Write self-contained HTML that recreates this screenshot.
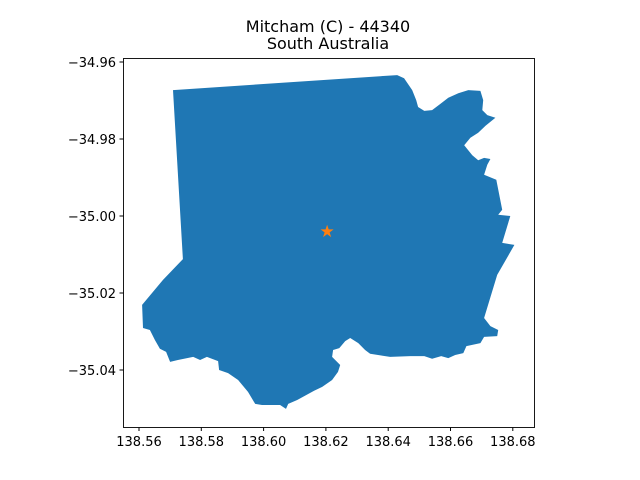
<!DOCTYPE html>
<html><head><meta charset="utf-8"><style>
body{margin:0;background:#fff}
svg{display:block;font-family:"DejaVu Sans","Liberation Sans",sans-serif}
</style></head><body>
<svg id="chart" width="640" height="480" viewBox="0 0 640 480">
<text x="328" y="32" text-anchor="middle" font-size="16">Mitcham (C) - 44340</text>
<text x="328" y="49" text-anchor="middle" font-size="16">South Australia</text>
<g id="plot"></g>
<rect x="123.5" y="58.5" width="411" height="369" fill="none" stroke="#000" stroke-width="0.9"/>
<g id="xt"></g><g id="yt"></g>
</svg>
<script>
const lons=[138.5709,138.6429,138.6451,138.6477,138.6490,138.6496,138.6516,138.6541,138.6567,138.6593,138.6625,138.6657,138.6696,138.6705,138.6702,138.6718,138.6744,138.6712,138.6689,138.6664,138.6644,138.6670,138.6689,138.6708,138.6728,138.6718,138.6708,138.6747,138.6766,138.6753,138.6792,138.6766,138.6805,138.6750,138.6708,138.6728,138.6753,138.6750,138.6708,138.6696,138.6651,138.6641,138.6615,138.6593,138.6570,138.6541,138.6516,138.6471,138.6406,138.6342,138.6326,138.6304,138.6278,138.6262,138.6243,138.6223,138.6220,138.6246,138.6239,138.6220,138.6188,138.6162,138.6108,138.6079,138.6072,138.6053,138.5995,138.5973,138.5950,138.5918,138.5886,138.5857,138.5854,138.5818,138.5796,138.5774,138.5725,138.5700,138.5687,138.5667,138.5651,138.5635,138.5613,138.5610,138.5677,138.5741];
const lats=[-34.9673,-34.9634,-34.9642,-34.9673,-34.9699,-34.9717,-34.9727,-34.9725,-34.9709,-34.9693,-34.9681,-34.9673,-34.9675,-34.9699,-34.9725,-34.9738,-34.9745,-34.9766,-34.9784,-34.9797,-34.9816,-34.9842,-34.9855,-34.9849,-34.9852,-34.9867,-34.9893,-34.9906,-34.9984,-34.9997,-35.0000,-35.0070,-35.0075,-35.0153,-35.0265,-35.0286,-35.0296,-35.0312,-35.0314,-35.0330,-35.0338,-35.0356,-35.0361,-35.0369,-35.0364,-35.0371,-35.0364,-35.0364,-35.0366,-35.0358,-35.0348,-35.0330,-35.0317,-35.0325,-35.0343,-35.0348,-35.0366,-35.0387,-35.0405,-35.0426,-35.0444,-35.0454,-35.0478,-35.0488,-35.0501,-35.0491,-35.0491,-35.0488,-35.0457,-35.0426,-35.0408,-35.0400,-35.0377,-35.0366,-35.0374,-35.0366,-35.0374,-35.0379,-35.0353,-35.0345,-35.0322,-35.0296,-35.0291,-35.0231,-35.0166,-35.0112];
const centroid=[138.6204,-35.0039];
const xTicks=[138.56,138.58,138.60,138.62,138.64,138.66,138.68];
const yTicks=[-34.96,-34.98,-35.00,-35.02,-35.04];
const X=v=>139+(v-138.56)/0.02*62.3;
const Y=v=>62+(-34.96-v)/0.02*77;
const NS="http://www.w3.org/2000/svg";
const plot=document.getElementById('plot');
const poly=document.createElementNS(NS,'polygon');
poly.setAttribute('points',lons.map((l,i)=>X(l).toFixed(1)+','+Y(lats[i]).toFixed(1)).join(' '));
poly.setAttribute('fill','#1f77b4');


plot.appendChild(poly);
const star=document.createElementNS(NS,'text');
star.setAttribute('x',X(centroid[0]));star.setAttribute('y',Y(centroid[1])+6);
star.setAttribute('text-anchor','middle');star.setAttribute('font-size','17');star.setAttribute('fill','#ff7f0e');
star.textContent='★';


plot.appendChild(star);
const xt=document.getElementById('xt');
xTicks.forEach(t=>{const x=X(t);
const l=document.createElementNS(NS,'line');l.setAttribute('x1',x);l.setAttribute('x2',x);l.setAttribute('y1',427.5);l.setAttribute('y2',431);l.setAttribute('stroke','#000');


xt.appendChild(l);
const s=document.createElementNS(NS,'text');s.setAttribute('x',x);s.setAttribute('y',446);s.setAttribute('text-anchor','middle');s.setAttribute('font-size','13');s.textContent=t.toFixed(2);


xt.appendChild(s);});
const yt=document.getElementById('yt');
yTicks.forEach(t=>{const y=Y(t);
const l=document.createElementNS(NS,'line');l.setAttribute('x1',119.5);l.setAttribute('x2',123.5);l.setAttribute('y1',y);l.setAttribute('y2',y);l.setAttribute('stroke','#000');


yt.appendChild(l);
const s=document.createElementNS(NS,'text');s.setAttribute('x',116);s.setAttribute('y',y+5);s.setAttribute('text-anchor','end');s.setAttribute('font-size','13');s.textContent='\u2212'+Math.abs(t).toFixed(2);


yt.appendChild(s);});
</script>
</body></html>
